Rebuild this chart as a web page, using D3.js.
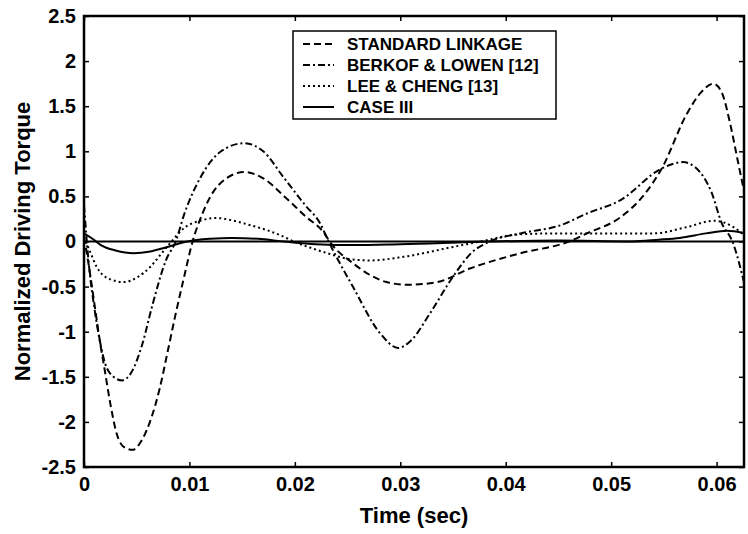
<!DOCTYPE html>
<html>
<head>
<meta charset="utf-8">
<script src="https://cdn.jsdelivr.net/npm/d3@7"></script>
<style>
  body { margin: 0; background: #fff; }
  text { font-family: "Liberation Sans", Arial, sans-serif; font-weight: bold; fill: #000; }
</style>
</head>
<body>
<script>
// tick values
var xTicks = [0, 0.01, 0.02, 0.03, 0.04, 0.05, 0.06];
var yTicks = [-2.5, -2, -1.5, -1, -0.5, 0, 0.5, 1, 1.5, 2, 2.5];

var seriesNames = ["STANDARD LINKAGE", "BERKOF & LOWEN [12]", "LEE & CHENG [13]", "CASE III"];

// [time, torque]
var standardLinkage = [[0,0.05],[0.0005,-0.3],[0.001,-0.7],[0.0015,-1.1],[0.002,-1.45],[0.0025,-1.8],
  [0.0031,-2.13],[0.0038,-2.28],[0.0046,-2.31],[0.0055,-2.2],[0.0064,-1.95],[0.0072,-1.62],[0.0079,-1.24],
  [0.0087,-0.8],[0.0095,-0.39],[0.0103,0],[0.0112,0.3],[0.012,0.5],[0.0135,0.7],[0.0152,0.77],[0.017,0.7],
  [0.019,0.5],[0.021,0.28],[0.0228,0.09],[0.0233,0],[0.0255,-0.24],[0.0287,-0.45],[0.0307,-0.48],
  [0.0335,-0.45],[0.0366,-0.3],[0.0414,-0.13],[0.046,0],[0.0477,0.09],[0.0509,0.27],[0.053,0.5],
  [0.0548,0.81],[0.0572,1.42],[0.0585,1.65],[0.0597,1.75],[0.0605,1.65],[0.0613,1.3],[0.062,0.9],[0.0628,0.45]];

var berkofLowen = [[0,0.4],[0.0005,-0.3],[0.001,-0.75],[0.0015,-1.1],[0.002,-1.35],[0.0028,-1.5],
  [0.0036,-1.54],[0.0045,-1.45],[0.0055,-1.15],[0.0065,-0.7],[0.0078,-0.2],[0.0087,0],[0.0095,0.3],
  [0.011,0.7],[0.013,1.0],[0.0152,1.09],[0.017,1.0],[0.019,0.7],[0.021,0.4],[0.0224,0.2],[0.0232,0],
  [0.0255,-0.5],[0.0281,-1.02],[0.0298,-1.18],[0.031,-1.1],[0.0328,-0.8],[0.035,-0.39],[0.0368,-0.12],
  [0.0385,0],[0.0414,0.09],[0.0452,0.18],[0.0477,0.31],[0.0509,0.46],[0.0548,0.81],[0.0568,0.88],
  [0.058,0.82],[0.0595,0.55],[0.0605,0.2],[0.0615,0],[0.0628,-0.55]];

var leeCheng = [[0,0.05],[0.0006,-0.12],[0.0012,-0.28],[0.0025,-0.42],[0.0038,-0.45],[0.005,-0.4],
  [0.0063,-0.28],[0.0073,-0.14],[0.0083,0],[0.0095,0.15],[0.011,0.23],[0.0126,0.26],[0.0142,0.23],
  [0.0158,0.18],[0.0175,0.12],[0.019,0.05],[0.0199,0],[0.0215,-0.07],[0.0228,-0.12],[0.0255,-0.2],
  [0.0271,-0.21],[0.0303,-0.17],[0.035,-0.06],[0.0376,0],[0.0414,0.08],[0.0452,0.09],[0.0477,0.09],
  [0.054,0.09],[0.0572,0.16],[0.0597,0.23],[0.0616,0.16],[0.0628,0.05]];

var caseIII = [[0,0.09],[0.0008,0.03],[0.0016,-0.04],[0.003,-0.1],[0.0047,-0.13],[0.0063,-0.11],
  [0.0079,-0.06],[0.0098,0],[0.012,0.03],[0.014,0.04],[0.0165,0.03],[0.019,0],[0.022,-0.03],
  [0.0255,-0.04],[0.03,-0.03],[0.0385,0],[0.045,0.01],[0.052,0],[0.0545,0.02],[0.0565,0.04],
  [0.059,0.09],[0.061,0.12],[0.0628,0.09]];

var allSeries = [standardLinkage, berkofLowen, leeCheng, caseIII];
var dashes = ["7,4", "7,3,2,3", "2,3", null];

var margin = { top: 16, right: 4, bottom: 67, left: 84 };
var width = 748 - margin.left - margin.right,
    height = 534 - margin.top - margin.bottom;

var x = d3.scaleLinear().domain([0, 0.0626]).range([0, width]);
var y = d3.scaleLinear().domain([-2.5, 2.5]).range([height, 0]);

var svg = d3.select("body").append("svg")
    .attr("width", 748)
    .attr("height", 534)
    .append("g")
    .attr("transform", "translate(" + margin.left + "," + margin.top + ")");

svg.append("defs").append("clipPath")
    .attr("id", "clip")
    .append("rect")
    .attr("width", width)
    .attr("height", height);

// zero line
svg.append("line")
    .attr("x1", 0).attr("x2", width)
    .attr("y1", y(0)).attr("y2", y(0))
    .attr("stroke", "#000")
    .attr("stroke-width", 2);

var line = d3.line()
    .x(function (d) { return x(d[0]); })
    .y(function (d) { return y(d[1]); })
    .curve(d3.curveMonotoneX);

svg.append("g").attr("clip-path", "url(#clip)")
    .selectAll("path")
    .data(allSeries)
    .enter().append("path")
    .attr("d", line)
    .attr("fill", "none")
    .attr("stroke", "#000")
    .attr("stroke-width", 2)
    .attr("stroke-dasharray", function (d, i) { return dashes[i]; });

var fmt = function (d) { return d3.format("")(d).replace("−", "-"); };

// axes, ticks pointing inward like matlab
var xAxis = d3.axisBottom(x).tickValues(xTicks).tickSizeInner(-5).tickSizeOuter(0).tickPadding(10).tickFormat(fmt);
var yAxis = d3.axisLeft(y).tickValues(yTicks).tickSizeInner(-5).tickSizeOuter(0).tickPadding(8).tickFormat(fmt);

var gx = svg.append("g")
    .attr("transform", "translate(0," + height + ")")
    .call(xAxis);
var gy = svg.append("g").call(yAxis);

svg.append("g").call(d3.axisTop(x).tickValues(xTicks).tickSizeInner(-5).tickSizeOuter(0).tickFormat(""));
svg.append("g").attr("transform", "translate(" + width + ",0)")
    .call(d3.axisRight(y).tickValues(yTicks).tickSizeInner(-5).tickSizeOuter(0).tickFormat(""));

svg.selectAll(".tick line").attr("stroke", "#000").attr("stroke-width", 1.5);
svg.selectAll(".domain").remove();
gx.selectAll("text").style("font-size", "20px").attr("dy", "0.71em");
gy.selectAll("text").style("font-size", "20px");

// frame
svg.append("rect")
    .attr("width", width)
    .attr("height", height)
    .attr("fill", "none")
    .attr("stroke", "#000")
    .attr("stroke-width", 2.5);

svg.append("text")
    .attr("x", width / 2)
    .attr("y", height + 56)
    .style("text-anchor", "middle")
    .style("font-size", "22px")
    .text("Time (sec)");

svg.append("text")
    .attr("transform", "rotate(-90)")
    .attr("x", -height / 2)
    .attr("y", -margin.left + 30)
    .style("text-anchor", "middle")
    .style("font-size", "22px")
    .text("Normalized Driving Torque");

// legend
var legend = svg.append("g").attr("transform", "translate(" + (293 - margin.left) + "," + (31 - margin.top) + ")");
legend.append("rect")
    .attr("width", 263)
    .attr("height", 88)
    .attr("fill", "#fff")
    .attr("stroke", "#000")
    .attr("stroke-width", 1.5);

var rows = legend.selectAll(".row")
    .data(seriesNames)
    .enter().append("g")
    .attr("class", "row")
    .attr("transform", function (d, i) { return "translate(0," + (13 + i * 21) + ")"; });

rows.append("line")
    .attr("x1", 10).attr("x2", 41)
    .attr("stroke", "#000")
    .attr("stroke-width", 2)
    .attr("stroke-dasharray", function (d, i) { return dashes[i]; });

rows.append("text")
    .attr("x", 54)
    .attr("dy", "0.36em")
    .style("font-size", "17px")
    .text(function (d) { return d; });
</script>
</body>
</html>
